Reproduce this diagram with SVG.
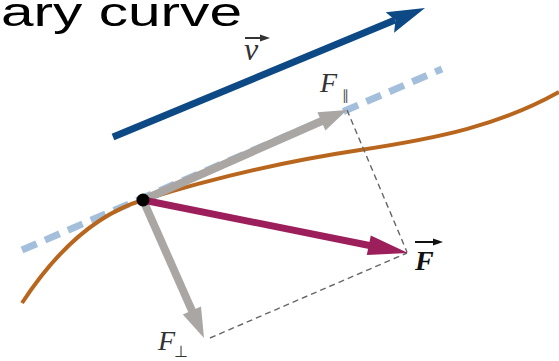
<svg xmlns="http://www.w3.org/2000/svg" width="559" height="361" viewBox="0 0 559 361">
<style>
.title{font-family:"Liberation Sans","DejaVu Sans",sans-serif;font-size:40px;fill:#000}
.lbl{font-family:"Liberation Serif","DejaVu Serif",serif;font-style:italic;fill:#333}
.dash{fill:none;stroke:#666;stroke-width:1.4;stroke-dasharray:6 4}
</style>
<rect width="559" height="361" fill="#fff"/>
<text class="title" x="1" y="26" textLength="241" lengthAdjust="spacingAndGlyphs">ary curve</text>

<g id="tangent">
<line x1="22" y1="250" x2="442" y2="69" stroke="#a3bfdc" stroke-width="7" stroke-dasharray="16 9"/>
</g>
<g id="curve">
<path d="M22,303 C60,245 100,213 143,200 C210,179 280,162 360,150 C440,138 500,125 559,92" fill="none" stroke="#b8661e" stroke-width="4"/>
</g>

<g id="connectors">
<line class="dash" x1="347" y1="110" x2="407" y2="252"/>
<line class="dash" x1="210" y1="338" x2="407" y2="253"/>
</g>

<g id="velocity">
<line x1="113" y1="137" x2="395" y2="20" stroke="#0d4a85" stroke-width="7"/>
<polygon points="425,8 394.1,32.7 395.4,20.2 385.7,12.3" fill="#0d4a85"/>
<line x1="245" y1="38" x2="262" y2="38" stroke="#333" stroke-width="2"/>
<polygon points="270,38 260,34.5 260,41.5" fill="#333"/>
<text class="lbl" x="244" y="60" font-size="32">v</text>
</g>

<g id="F-parallel">
<line x1="143" y1="200" x2="323" y2="120.5" stroke="#a9a6a4" stroke-width="8"/>
<polygon points="347,110 325.4,130.4 317.4,112.2" fill="#a9a6a4"/>
<text class="lbl" x="320" y="92" font-size="28">F</text>
<text x="342" y="100" font-family="Liberation Serif,serif" font-size="14" fill="#555">∥</text>
</g>

<g id="F-perp">
<line x1="143" y1="200" x2="193" y2="313" stroke="#a9a6a4" stroke-width="8"/>
<polygon points="204,338 182.8,314.6 201.0,306.6" fill="#a9a6a4"/>
<text class="lbl" x="158" y="350" font-size="28">F</text>
<text x="174" y="357" font-family="Liberation Serif,serif" font-size="16" fill="#333">⊥</text>
</g>

<g id="F-net">
<line x1="143" y1="200" x2="372" y2="246" stroke="#9c1f5b" stroke-width="7"/>
<polygon points="408,253 366.8,255 370.8,235.4" fill="#9c1f5b"/>
<line x1="415" y1="242" x2="434" y2="242" stroke="#111" stroke-width="2"/>
<polygon points="443,242 433,238.5 433,245.5" fill="#111"/>
<text class="lbl" x="415" y="270" font-size="28" font-weight="bold" style="fill:#111">F</text>
</g>

<g id="point">
<circle cx="143" cy="200" r="6.5" fill="#000"/>
</g>
</svg>
